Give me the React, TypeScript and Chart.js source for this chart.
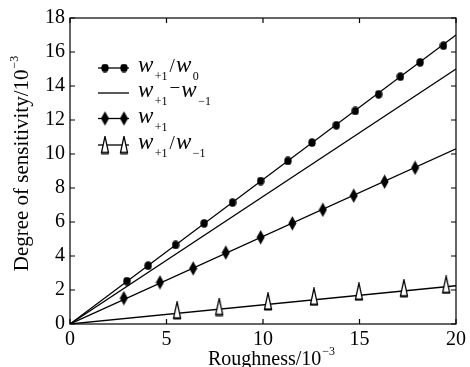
import React, { useEffect, useRef } from "react";
import { Chart, registerables } from "chart.js";

Chart.register(...registerables);

// ---- data ----
const circleX = [2.95, 4.05, 5.47, 6.95, 8.42, 9.88, 11.29, 12.54, 13.8, 14.78, 15.99, 17.12, 18.14, 19.35];
const circleY = [2.52, 3.43, 4.65, 5.92, 7.14, 8.41, 9.59, 10.67, 11.69, 12.53, 13.51, 14.55, 15.39, 16.37];
const diamondX = [2.79, 4.66, 6.38, 8.07, 9.88, 11.52, 13.1, 14.7, 16.3, 17.88];
const diamondY = [1.52, 2.45, 3.27, 4.2, 5.1, 5.92, 6.72, 7.55, 8.37, 9.19];
const triangleX = [5.55, 7.73, 10.26, 12.64, 14.97, 17.3, 19.49];
const triangleY = [0.8, 1.0, 1.32, 1.6, 1.9, 2.1, 2.3];
const lineX = [0, 20];
const line1Y = [0, 17];
const line2Y = [0, 15];
const line3Y = [0, 10.3];
const line4Y = [0, 2.25];
const xTicks = [0, 5, 10, 15, 20];
const yTicks = [0, 2, 4, 6, 8, 10, 12, 14, 16, 18];

const FONT = "'Liberation Serif', 'Times New Roman', serif";

function pts(xs: number[], ys: number[]) {
  return xs.map((x, i) => ({ x, y: ys[i] }));
}

function makeCircle() {
  const c = document.createElement("canvas");
  c.width = 8; c.height = 9;
  const g = c.getContext("2d")!;
  g.fillStyle = "#000";
  g.beginPath();
  g.ellipse(4, 4.5, 3.7, 4.2, 0, 0, Math.PI * 2);
  g.fill();
  return c;
}
function makeDiamond() {
  const c = document.createElement("canvas");
  c.width = 9; c.height = 15;
  const g = c.getContext("2d")!;
  g.fillStyle = "#000";
  g.beginPath();
  g.moveTo(4.5, 0.3); g.lineTo(8.5, 7.5); g.lineTo(4.5, 14.7); g.lineTo(0.5, 7.5);
  g.closePath(); g.fill();
  return c;
}
function makeTriangle() {
  const c = document.createElement("canvas");
  c.width = 10; c.height = 19;
  const g = c.getContext("2d")!;
  g.fillStyle = "#fff";
  g.strokeStyle = "#000";
  g.lineWidth = 1.3;
  g.beginPath();
  g.moveTo(5, 0.8); g.lineTo(8.5, 17.2); g.lineTo(1.5, 17.2);
  g.closePath(); g.fill(); g.stroke();
  g.lineWidth = 1.8;
  g.beginPath(); g.moveTo(1.2, 17.6); g.lineTo(8.8, 17.6); g.stroke();
  return c;
}

type Part = { t: string; k: "w" | "sub" | "op" };

function drawRich(ctx: CanvasRenderingContext2D, x: number, base: number, parts: Part[]) {
  let cx = x;
  parts.forEach((p) => {
    if (p.k === "w") {
      ctx.font = `italic 23px ${FONT}`;
      ctx.fillText(p.t, cx, base);
      cx += ctx.measureText(p.t).width + 1.5;
    } else if (p.k === "sub") {
      ctx.font = `12px ${FONT}`;
      ctx.fillText(p.t, cx, base + 8);
      cx += ctx.measureText(p.t).width + 2;
    } else {
      ctx.font = `19px ${FONT}`;
      ctx.fillText(p.t, cx, base - (p.t === "/" ? 0 : 3));
      cx += ctx.measureText(p.t).width + 1;
    }
  });
}

export default function App() {
  const ref = useRef<HTMLCanvasElement>(null);
  useEffect(() => {
    document.body.style.margin = "0";
    const canvas = ref.current!;
    const circ = makeCircle();
    const dia = makeDiamond();
    const tri = makeTriangle();

    const frame = {
      id: "frame",
      afterDraw(chart: any) {
        const ctx: CanvasRenderingContext2D = chart.ctx;
        const a = chart.chartArea;
        const xs = chart.scales.x, ys = chart.scales.y;
        ctx.save();
        ctx.strokeStyle = "#000";
        ctx.lineWidth = 1.2;
        ctx.strokeRect(a.left, a.top, a.right - a.left, a.bottom - a.top);
        const tl = 5;
        ctx.beginPath();
        xTicks.forEach((v) => {
          const px = xs.getPixelForValue(v);
          ctx.moveTo(px, a.bottom); ctx.lineTo(px, a.bottom - tl);
          ctx.moveTo(px, a.top); ctx.lineTo(px, a.top + tl);
        });
        yTicks.forEach((v) => {
          const py = ys.getPixelForValue(v);
          ctx.moveTo(a.left, py); ctx.lineTo(a.left + tl, py);
          ctx.moveTo(a.right, py); ctx.lineTo(a.right - tl, py);
        });
        ctx.stroke();

        // legend
        const lx0 = 98, lx1 = 129, m1 = 105, m2 = 124, tx = 138;
        const rows = [68, 93, 118.5, 145];
        const imgs = [circ, null, dia, tri];
        const texts: Part[][] = [
          [{ t: "w", k: "w" }, { t: "+1", k: "sub" }, { t: "/", k: "op" }, { t: "w", k: "w" }, { t: "0", k: "sub" }],
          [{ t: "w", k: "w" }, { t: "+1", k: "sub" }, { t: "\u2212", k: "op" }, { t: "w", k: "w" }, { t: "\u22121", k: "sub" }],
          [{ t: "w", k: "w" }, { t: "+1", k: "sub" }],
          [{ t: "w", k: "w" }, { t: "+1", k: "sub" }, { t: "/", k: "op" }, { t: "w", k: "w" }, { t: "\u22121", k: "sub" }],
        ];
        ctx.fillStyle = "#000";
        ctx.textBaseline = "alphabetic";
        ctx.textAlign = "left";
        rows.forEach((ry, i) => {
          ctx.lineWidth = 1.3;
          ctx.beginPath(); ctx.moveTo(lx0, ry); ctx.lineTo(lx1, ry); ctx.stroke();
          const im = imgs[i];
          if (im) {
            [m1, m2].forEach((mx) => ctx.drawImage(im, mx - im.width / 2, ry - im.height / 2));
          }
          drawRich(ctx, tx, ry + 4, texts[i]);
        });

        // axis titles
        ctx.font = `20px ${FONT}`;
        const xt = "Roughness/10";
        const xw = ctx.measureText(xt).width;
        ctx.font = `12px ${FONT}`;
        const sw = ctx.measureText("\u22123").width;
        const xStart = 271 - (xw + sw) / 2;
        ctx.font = `20px ${FONT}`;
        ctx.fillText(xt, xStart, 365);
        ctx.font = `12px ${FONT}`;
        ctx.fillText("\u22123", xStart + xw + 1, 355);

        ctx.save();
        ctx.translate(28, 164);
        ctx.rotate(-Math.PI / 2);
        ctx.font = `21px ${FONT}`;
        const yt = "Degree of sensitivity/10";
        const yw = ctx.measureText(yt).width;
        const ys0 = -(yw + sw) / 2;
        ctx.fillText(yt, ys0, 0);
        ctx.font = `12px ${FONT}`;
        ctx.fillText("\u22123", ys0 + yw + 1, -10);
        ctx.restore();
        ctx.restore();
      },
    };

    const lineDs = (ys: number[]) => ({
      data: pts(lineX, ys),
      showLine: true,
      borderColor: "#000",
      borderWidth: 1.3,
      pointRadius: 0,
      order: 2,
    });
    const markDs = (xs: number[], ys: number[], img: HTMLCanvasElement) => ({
      data: pts(xs, ys),
      showLine: false,
      pointStyle: img,
      pointRadius: 5,
      order: 1,
    });

    const chart = new Chart(canvas, {
      type: "scatter",
      data: {
        datasets: [
          lineDs(line1Y),
          lineDs(line2Y),
          lineDs(line3Y),
          lineDs(line4Y),
          markDs(circleX, circleY, circ),
          markDs(diamondX, diamondY, dia),
          markDs(triangleX, triangleY, tri),
        ] as any,
      },
      options: {
        animation: false,
        responsive: false,
        devicePixelRatio: 1,
        layout: { padding: { top: 18, right: 13, left: 0, bottom: 0 } },
        plugins: { legend: { display: false }, tooltip: { enabled: false } },
        scales: {
          x: {
            type: "linear",
            min: 0,
            max: 20,
            grid: { display: false, drawTicks: false },
            border: { display: false },
            ticks: { color: "#000", font: { family: FONT, size: 20 }, padding: 4, maxRotation: 0 },
            afterBuildTicks: (s: any) => { s.ticks = xTicks.map((v) => ({ value: v })); },
            afterFit: (s: any) => { s.height = 43; },
          },
          y: {
            type: "linear",
            min: 0,
            max: 18,
            grid: { display: false, drawTicks: false },
            border: { display: false },
            ticks: { color: "#000", font: { family: FONT, size: 20 }, padding: 5 },
            afterBuildTicks: (s: any) => { s.ticks = yTicks.map((v) => ({ value: v })); },
            afterFit: (s: any) => { s.width = 70; },
          },
        },
      } as any,
      plugins: [frame],
    });
    return () => chart.destroy();
  }, []);
  return <canvas ref={ref} width={470} height={367} style={{ display: "block" }} />;
}
